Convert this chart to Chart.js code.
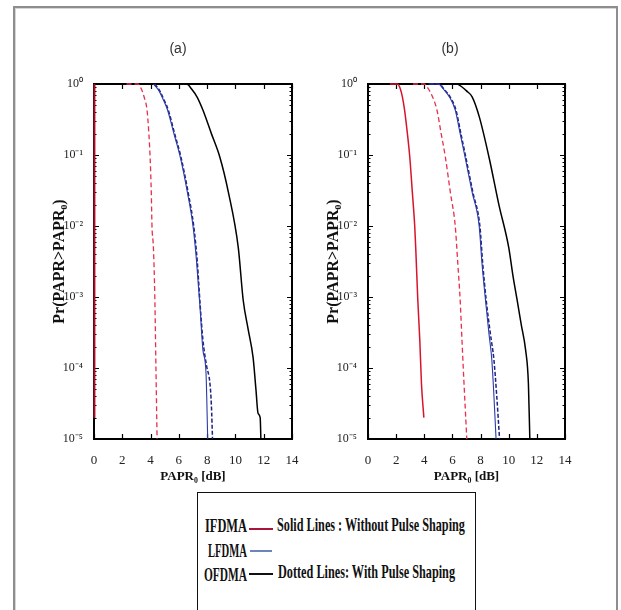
<!DOCTYPE html>
<html>
<head>
<meta charset="utf-8">
<script src="https://cdn.jsdelivr.net/npm/chart.js@4.4.1/dist/chart.umd.min.js"></script>
<style>
  html, body { margin: 0; padding: 0; background: #fff; }
  body { width: 621px; height: 610px; position: relative; overflow: hidden; }
  #frame { position: absolute; left: 13px; top: 6px; width: 601px; height: 640px;
           border: 2px solid #8e8e8e; box-shadow: inset 1px 1px 0 #d6d6d6; }
  canvas { position: absolute; }
  #cA { left: 20px; top: 10px; }
  #cB { left: 294px; top: 10px; }
  #legendBox { position: absolute; left: 197px; top: 492px; width: 277px; height: 140px;
               border: 1.5px solid #111; background: #fff; }
  .lt { position: absolute; font-family: "Liberation Serif", "DejaVu Serif", serif; font-weight: bold;
        font-size: 19px; color: #111; white-space: nowrap; transform-origin: left center; line-height: 1; }
  .seg { position: absolute; }
</style>
</head>
<body>
<div id="frame"></div>
<canvas id="cA" width="316" height="480"></canvas>
<canvas id="cB" width="312" height="480"></canvas>
<div id="legendBox"></div>
<span class="lt" data-x="205" data-y="525" data-w="42">IFDMA</span>
<span class="lt" data-x="208" data-y="550" data-w="39">LFDMA</span>
<span class="lt" data-x="204" data-y="574" data-w="43">OFDMA</span>
<span class="lt" data-x="277" data-y="524" data-w="188">Solid Lines : Without Pulse Shaping</span>
<span class="lt" data-x="278" data-y="571" data-w="177">Dotted Lines: With Pulse Shaping</span>
<div class="seg" style="left:249px;top:528px;width:24px;height:2px;background:#a8143a;"></div>
<div class="seg" style="left:250px;top:550px;width:22px;height:1.5px;background:#6a86b8;"></div>
<div class="seg" style="left:249px;top:573px;width:24px;height:2px;background:#111;"></div>
<script>
// ---------- axis ticks ----------
const xTickValues = [0, 2, 4, 6, 8, 10, 12, 14];
const yTickValues = [1e-5, 1e-4, 1e-3, 1e-2, 1e-1, 1];
const yTickLabels = ['10\u207B\u2075', '10\u207B\u2074', '10\u207B\u00B3', '10\u207B\u00B2', '10\u207B\u00B9', '10\u2070'];
const panelTitles = ['(a)', '(b)'];
const xAxisTitle = 'PAPR\u2080 [dB]';
const yAxisTitle = 'Pr(PAPR>PAPR\u2080)';

// ---------- panel (a) ----------
const aIfdmaSolidX = [0.03, 0.03];
const aIfdmaSolidY = [1, 2e-5];
const aIfdmaDashX = [2.3, 3.1, 3.35, 3.55, 3.75, 3.88, 3.97, 4.05, 4.1, 4.2, 4.3, 4.38, 4.46];
const aIfdmaDashY = [1, 1, 0.85, 0.65, 0.43, 0.2, 0.09, 0.03, 0.01, 5e-3, 1e-3, 1e-4, 1e-5];
const aLfdmaSolidX = [4.2, 4.6, 4.9, 5.2, 5.65, 6.1, 6.6, 7.0, 7.25, 7.5, 7.7, 7.92, 8.04];
const aLfdmaSolidY = [1, 0.8, 0.6, 0.43, 0.2, 0.093, 0.03, 0.01, 3.2e-3, 7e-4, 1.8e-4, 8.5e-5, 1e-5];
const aLfdmaDashX = [4.3, 4.65, 4.95, 5.25, 5.7, 6.15, 6.65, 7.05, 7.3, 7.5, 7.7, 7.95, 8.2, 8.3, 8.38];
const aLfdmaDashY = [1, 0.8, 0.6, 0.43, 0.2, 0.093, 0.03, 0.01, 3.2e-3, 8e-4, 2.5e-4, 1.1e-4, 6e-5, 3e-5, 1e-5];
const aOfdmaX = [6.0, 6.55, 6.9, 7.3, 7.7, 8.3, 8.9, 9.5, 10.2, 10.55, 10.9, 11.25, 11.45, 11.6, 11.75, 11.8];
const aOfdmaY = [1, 1, 0.85, 0.65, 0.43, 0.2, 0.093, 0.03, 5e-3, 9e-4, 3.5e-4, 1.4e-4, 5e-5, 2.3e-5, 2e-5, 1e-5];

// ---------- panel (b) ----------
const bIfdmaSolidX = [1.55, 2.1, 2.3, 2.45, 2.6, 2.8, 2.97, 3.15, 3.32, 3.4, 3.54, 3.68, 3.8, 3.97];
const bIfdmaSolidY = [1, 1, 0.85, 0.65, 0.43, 0.2, 0.093, 0.03, 0.01, 4.5e-3, 9e-4, 2.5e-4, 6e-5, 2e-5];
const bIfdmaDashX = [3.2, 4.0, 4.3, 4.6, 4.9, 5.2, 5.5, 5.85, 6.2, 6.38, 6.55, 6.66, 6.77, 6.9, 7.02];
const bIfdmaDashY = [1, 1, 0.85, 0.65, 0.43, 0.2, 0.093, 0.03, 0.01, 3e-3, 9e-4, 3e-4, 1e-4, 3e-5, 1e-5];
const bLfdmaSolidX = [4.3, 5.0, 5.35, 5.8, 6.2, 6.55, 6.9, 7.4, 7.9, 8.1, 8.35, 8.6, 8.8, 8.95, 9.1];
const bLfdmaSolidY = [1, 1, 0.85, 0.65, 0.43, 0.2, 0.093, 0.03, 0.01, 3e-3, 9e-4, 3e-4, 1.3e-4, 4e-5, 1e-5];
const bLfdmaDashX = [4.4, 5.05, 5.4, 5.85, 6.25, 6.6, 6.95, 7.45, 7.95, 8.15, 8.4, 8.7, 8.95, 9.15, 9.35];
const bLfdmaDashY = [1, 1, 0.85, 0.65, 0.43, 0.2, 0.093, 0.03, 0.01, 3e-3, 9e-4, 3e-4, 1.3e-4, 4e-5, 1e-5];
const bOfdmaX = [5.3, 6.3, 6.7, 7.0, 7.4, 7.9, 8.6, 9.3, 10.0, 10.3, 10.6, 10.9, 11.2, 11.4, 11.5];
const bOfdmaY = [1, 1, 0.9, 0.8, 0.66, 0.35, 0.093, 0.02, 5e-3, 2e-3, 9e-4, 4e-4, 1.8e-4, 6e-5, 1e-5];

const pts = (xs, ys) => xs.map((x, i) => ({ x: x, y: ys[i] }));

function ds(label, xs, ys, color, width, dash, smooth) {
  return {
    label: label, data: pts(xs, ys), borderColor: color, backgroundColor: color,
    borderWidth: width, borderDash: dash || [], pointRadius: 0, fill: false,
    tension: 0, cubicInterpolationMode: smooth === false ? 'default' : 'monotone', clip: 3
  };
}

const RED = '#d8142c', RED_D = '#e6304e', BLUE = '#2b3aa8', BLUE_D = '#1c2380', BLACK = '#000';

const frameTicks = {
  id: 'frameTicks',
  beforeDatasetsDraw(chart) {
    const { ctx, chartArea: a, scales } = chart;
    ctx.save();
    ctx.strokeStyle = '#000';
    ctx.lineWidth = 2;
    ctx.strokeRect(a.left, a.top, a.right - a.left, a.bottom - a.top);
    ctx.lineWidth = 1.2;
    ctx.beginPath();
    xTickValues.forEach(v => {
      const px = Math.round(scales.x.getPixelForValue(v)) + 0.5;
      ctx.moveTo(px, a.bottom); ctx.lineTo(px, a.bottom - 5);
      ctx.moveTo(px, a.top); ctx.lineTo(px, a.top + 5);
    });
    yTickValues.forEach(v => {
      const py = Math.round(scales.y.getPixelForValue(v)) + 0.5;
      ctx.moveTo(a.left, py); ctx.lineTo(a.left + 5, py);
      ctx.moveTo(a.right, py); ctx.lineTo(a.right - 5, py);
    });
    ctx.stroke();
    ctx.lineWidth = 1;
    ctx.beginPath();
    for (let d = 0; d < yTickValues.length - 1; d++) {
      for (let k = 2; k <= 9; k++) {
        const py = Math.round(scales.y.getPixelForValue(yTickValues[d] * k)) + 0.5;
        ctx.moveTo(a.left, py); ctx.lineTo(a.left + 2.5, py);
        ctx.moveTo(a.right, py); ctx.lineTo(a.right - 2.5, py);
      }
    }
    ctx.stroke();
    ctx.restore();
  }
};

function makeChart(id, title, datasets, rightW) {
  return new Chart(document.getElementById(id), {
    type: 'line',
    data: { datasets: datasets },
    options: {
      responsive: false, animation: false, devicePixelRatio: 1,
      layout: { padding: 0 },
      plugins: {
        legend: { display: false }, tooltip: { enabled: false },
        title: { display: true, text: title, color: '#333',
                 font: { family: 'Liberation Sans, Arial, sans-serif', size: 14, weight: 'normal', lineHeight: 1.2 },
                 padding: { top: 30.6, bottom: 26.6 } }
      },
      scales: {
        x: {
          type: 'linear', min: 0, max: 14, position: 'bottom',
          afterBuildTicks: s => { s.ticks = xTickValues.map(v => ({ value: v })); },
          afterFit: s => { s.height = 51; },
          grid: { display: false }, border: { display: false },
          ticks: { color: '#222', padding: 6, maxRotation: 0,
                   font: { family: 'Liberation Serif, serif', size: 13 } },
          title: { display: true, text: xAxisTitle, color: '#111',
                   font: { family: 'Liberation Serif, serif', size: 13, weight: 'bold', lineHeight: 1.2 },
                   padding: { top: 0, bottom: 5.6 } }
        },
        y: {
          type: 'logarithmic', min: 1e-5, max: 1, position: 'left',
          afterBuildTicks: s => { s.ticks = yTickValues.map(v => ({ value: v })); },
          afterFit: s => { s.width = 74; },
          grid: { display: false }, border: { display: false },
          ticks: { color: '#222', padding: 3,
                   callback: (v, i) => yTickLabels[i],
                   font: { family: 'Liberation Serif, serif', size: 12 } },
          title: { display: true, text: yAxisTitle, color: '#111',
                   font: { family: 'Liberation Serif, serif', size: 16, weight: 'bold', lineHeight: 1.2 },
                   padding: { top: 30.4, bottom: 0 } }
        },
        y2: {
          type: 'linear', position: 'right', display: true, min: 0, max: 1,
          afterFit: s => { s.width = rightW; },
          grid: { display: false }, border: { display: false }, ticks: { display: false }
        }
      }
    },
    plugins: [frameTicks]
  });
}

makeChart('cA', panelTitles[0], [
  ds('IFDMA', aIfdmaDashX, aIfdmaDashY, RED_D, 1.3, [5, 3]),
  ds('LFDMA', aLfdmaSolidX, aLfdmaSolidY, BLUE, 1.1),
  ds('LFDMA (pulse shaping)', aLfdmaDashX, aLfdmaDashY, BLUE_D, 1.5, [4, 2]),
  ds('OFDMA', aOfdmaX, aOfdmaY, BLACK, 1.5),
  ds('IFDMA (no shaping)', aIfdmaSolidX, aIfdmaSolidY, '#a8102a', 2, [], false)
], 44);

makeChart('cB', panelTitles[1], [
  ds('IFDMA', bIfdmaSolidX, bIfdmaSolidY, RED, 1.5),
  ds('IFDMA (pulse shaping)', bIfdmaDashX, bIfdmaDashY, RED_D, 1.3, [5, 3]),
  ds('LFDMA', bLfdmaSolidX, bLfdmaSolidY, BLUE, 1.1),
  ds('LFDMA (pulse shaping)', bLfdmaDashX, bLfdmaDashY, BLUE_D, 1.5, [4, 2]),
  ds('OFDMA', bOfdmaX, bOfdmaY, BLACK, 1.5)
], 41);

// legend text fitting (condensed look)
document.querySelectorAll('.lt').forEach(el => {
  const x = +el.dataset.x, y = +el.dataset.y, w = +el.dataset.w;
  el.style.left = x + 'px';
  el.style.top = y + 'px';
  const nat = el.getBoundingClientRect().width;
  el.style.transform = 'translateY(-50%) scaleX(' + (w / nat).toFixed(3) + ')';
});
</script>
</body>
</html>
